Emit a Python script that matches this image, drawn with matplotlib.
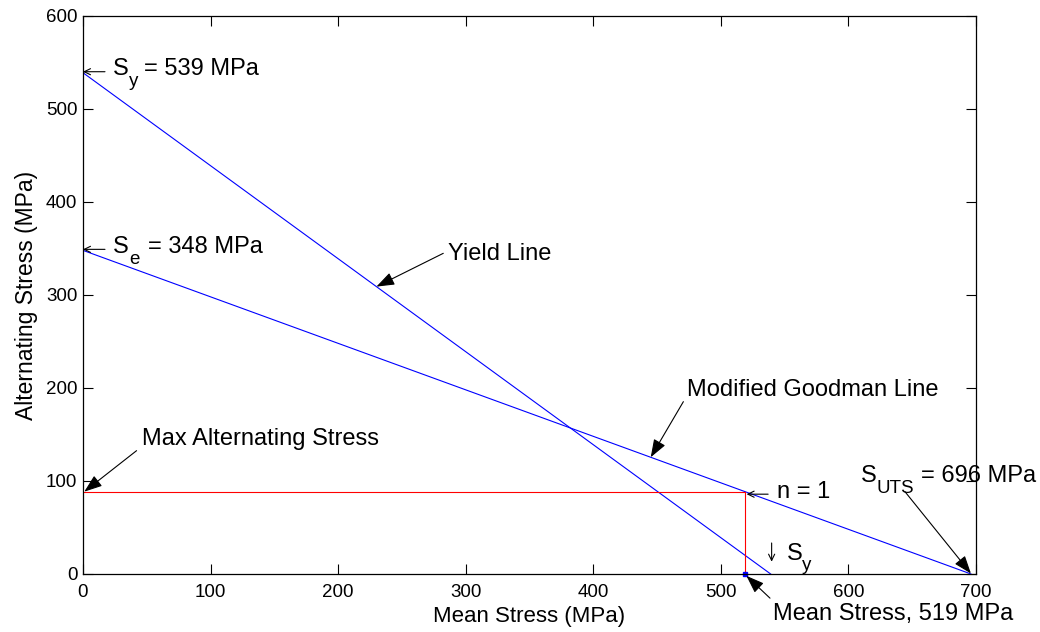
import numpy as np
import matplotlib

matplotlib.use("Agg")

import matplotlib.pyplot as plt
import matplotlib.transforms as mtransforms

plt.rcParams["font.family"] = ["Liberation Sans", "DejaVu Sans"]

# Material properties (MPa)
S_y = 539
S_e = 348
S_uts = 696
mean_stress = 519
alt_stress = S_e * (1 - mean_stress / S_uts)

# Line end points
yield_x = [0, S_y]
yield_y = [S_y, 0]
goodman_x = [0, S_uts]
goodman_y = [S_e, 0]

x_ticks = [0, 100, 200, 300, 400, 500, 600, 700]
y_ticks = [0, 100, 200, 300, 400, 500, 600]

FS = 17      # annotation text size
FS_SUB = 13.5

fig = plt.figure(figsize=(10.4, 6.32), dpi=100)
ax = fig.add_axes([0.0798, 0.0918, 0.8587, 0.8829])

ax.plot(yield_x, yield_y, color="blue", lw=0.8)
ax.plot(goodman_x, goodman_y, color="blue", lw=0.8)
ax.plot([0, mean_stress], [alt_stress, alt_stress], color="red", lw=0.8)
ax.plot([mean_stress, mean_stress], [0, alt_stress], color="red", lw=0.8)
ax.plot([mean_stress], [0], marker="s", ms=2.5, color="blue", mec="blue",
        clip_on=False)

ax.set_xlim(0, 700)
ax.set_ylim(0, 600)
ax.set_xticks(x_ticks)
ax.set_yticks(y_ticks)
ax.tick_params(direction="in", length=7, width=0.8, top=True, right=True,
               labelsize=13.5, colors="black")
ax.tick_params(axis="x", pad=7)
ax.tick_params(axis="y", pad=4)
for s in ax.spines.values():
    s.set_linewidth(0.9)

ax.set_xlabel("Mean Stress (MPa)", fontsize=16, labelpad=4)
ax.set_ylabel("Alternating Stress (MPa)", fontsize=16.5, labelpad=6)

renderer = fig.canvas.get_renderer()


def shifted(dx, dy):
    """Data transform shifted by (dx, dy) pixels."""
    return mtransforms.offset_copy(ax.transData, fig=fig, x=dx, y=dy,
                                   units="dots")


def rich(x, y, dx, dy, parts):
    """Write text runs side by side, pixel offsets.
    parts: (text, size, drop, gap_after)"""
    for s, size, drop, gap in parts:
        t = ax.text(x, y, s, fontsize=size, transform=shifted(dx, dy - drop),
                    va="baseline", ha="left", clip_on=False)
        dx += t.get_window_extent(renderer).width + gap


def text_arrow(x, y, tip, tail):
    """Thin open arrow pointing at (x, y); tip/tail offsets in pixels."""
    ax.annotate("", xy=(x, y), xycoords=shifted(*tip),
                xytext=(x, y), textcoords=shifted(*tail),
                annotation_clip=False,
                arrowprops=dict(arrowstyle="->,head_length=0.45,head_width=0.22",
                                color="black", lw=0.8, shrinkA=0, shrinkB=0))


# short text arrows
text_arrow(0, S_y, (0, 1), (22, 1))
rich(0, S_y, 29.7, -2.3, [("S", FS, 0, 0), ("y", FS_SUB, 10.5, 6.5),
                         ("= 539 MPa", FS, 0, 0)])

text_arrow(0, S_e, (0, 1), (22, 1))
rich(0, S_e, 29.7, -3, [("S", FS, 0, 1), ("e", FS_SUB, 10.5, 8),
                       ("= 348 MPa", FS, 0, 0)])

text_arrow(mean_stress, alt_stress, (1.5, -2.5), (23, -2.5))
rich(mean_stress, alt_stress, 31.6, -6.6, [("n = 1", FS, 0, 0)])

text_arrow(S_y, 0, (1, 12.3), (1, 31))
rich(S_y, 0, 16, 14, [("S", FS, 0, 0), ("y", FS_SUB, 10.5, 0)])

# callouts with filled heads
arrow = dict(arrowstyle="-|>,head_length=1.1,head_width=0.4",
             color="black", lw=0.8, shrinkA=0, shrinkB=0)
txt = dict(fontsize=FS, va="baseline", ha="left")

ax.annotate("", xy=(230, 309), xytext=(282.4, 344.8), arrowprops=arrow)
ax.text(286.4, 337.6, "Yield Line", **txt)

ax.annotate("", xy=(445, 125.5), xytext=(470.6, 185.3), arrowprops=arrow)
ax.text(473.2, 191.7, "Modified Goodman Line", **txt)

ax.annotate("", xy=(1, alt_stress), xytext=(42, 132.6), arrowprops=arrow,
            annotation_clip=False)
ax.text(46, 138.7, "Max Alternating Stress", **txt)

ax.annotate("", xy=(S_uts, 0.5), xytext=(644.3, 88.5), arrowprops=arrow,
            annotation_clip=False)
rich(609.6, 98.6, 0, 0, [("S", FS, 0, 0), ("UTS", FS_SUB, 10.5, 7),
                        ("= 696 MPa", FS, 0, 0)])

ax.annotate("", xy=(mean_stress + 1, -2), xytext=(538.5, -26),
            arrowprops=arrow, annotation_clip=False)
ax.text(541.2, -49.5, "Mean Stress, 519 MPa", clip_on=False, **txt)

fig.savefig("out.png", dpi=100)
